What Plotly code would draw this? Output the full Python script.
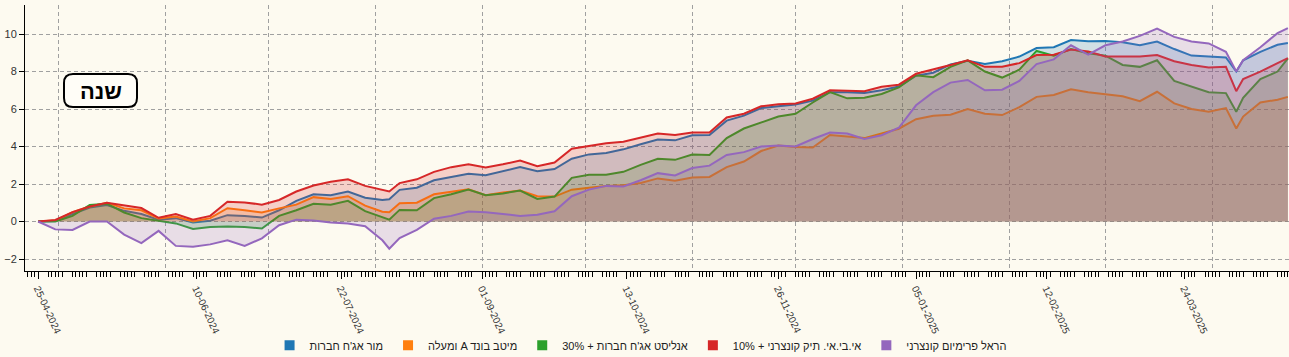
import plotly.graph_objects as go
import pandas as pd

# ---------------- data ----------------
dates = [
    "2024-04-25", "2024-04-30", "2024-05-05", "2024-05-10", "2024-05-15", "2024-05-20",
    "2024-05-25", "2024-05-30", "2024-06-04", "2024-06-09", "2024-06-14", "2024-06-19",
    "2024-06-24", "2024-06-29", "2024-07-04", "2024-07-09", "2024-07-14", "2024-07-19",
    "2024-07-24", "2024-07-29", "2024-08-03", "2024-08-05", "2024-08-08", "2024-08-13",
    "2024-08-18", "2024-08-23", "2024-08-28", "2024-09-02", "2024-09-07", "2024-09-12",
    "2024-09-17", "2024-09-22", "2024-09-27", "2024-10-02", "2024-10-07", "2024-10-12",
    "2024-10-17", "2024-10-22", "2024-10-27", "2024-11-01", "2024-11-06", "2024-11-11",
    "2024-11-16", "2024-11-21", "2024-11-26", "2024-12-01", "2024-12-06", "2024-12-11",
    "2024-12-16", "2024-12-21", "2024-12-26", "2024-12-31", "2025-01-05", "2025-01-10",
    "2025-01-15", "2025-01-20", "2025-01-25", "2025-01-30", "2025-02-04", "2025-02-09",
    "2025-02-14", "2025-02-19", "2025-02-24", "2025-03-01", "2025-03-06", "2025-03-11",
    "2025-03-16", "2025-03-21", "2025-03-26", "2025-03-31", "2025-04-05", "2025-04-08",
    "2025-04-10", "2025-04-15", "2025-04-20", "2025-04-23",
]

# מור אג"ח חברות (blue)
mor = [
    0, 0.03, 0.4, 0.75, 0.88, 0.57, 0.4, 0.1, 0.18, -0.05, 0.04, 0.34,
    0.3, 0.21, 0.6, 1.1, 1.45, 1.4, 1.6, 1.27, 1.15, 1.19, 1.69, 1.8,
    2.2, 2.38, 2.55, 2.47, 2.7, 2.9, 2.68, 2.8, 3.35, 3.58, 3.66, 3.85,
    4.12, 4.37, 4.33, 4.6, 4.62, 5.38, 5.65, 6.05, 6.15, 6.24, 6.45, 6.9,
    6.9, 6.85, 7.0, 7.2, 7.78, 7.94, 8.38, 8.57, 8.4, 8.55, 8.8, 9.25,
    9.3, 9.68, 9.62, 9.63, 9.56, 9.4, 9.6, 9.2, 8.85, 8.8, 8.75, 8.0,
    8.6, 9.05, 9.43, 9.52,
]
# מיטב בונד A ומעלה (orange)
meitav = [
    0, 0.05, 0.5, 0.8, 1.0, 0.7, 0.6, 0.16, 0.27, 0.0, 0.18, 0.71,
    0.6, 0.48, 0.7, 0.9, 1.3, 1.2, 1.35, 0.85, 0.52, 0.5, 0.98, 1.0,
    1.45, 1.58, 1.72, 1.4, 1.55, 1.65, 1.35, 1.33, 1.7, 1.8, 1.9, 1.94,
    2.05, 2.3, 2.18, 2.35, 2.38, 2.9, 3.2, 3.76, 4.05, 3.98, 3.95, 4.62,
    4.54, 4.45, 4.7, 4.95, 5.46, 5.64, 5.7, 6.0, 5.75, 5.68, 6.1, 6.65,
    6.75, 7.05, 6.9, 6.78, 6.68, 6.42, 6.92, 6.3, 6.0, 5.85, 6.05, 4.96,
    5.6, 6.35, 6.5, 6.65,
]
# אנליסט אג"ח חברות + 30% (green)
analyst = [
    0, 0.0, 0.3, 0.88, 0.95, 0.48, 0.18, 0.03, -0.1, -0.4, -0.29, -0.27,
    -0.29, -0.37, 0.3, 0.6, 0.95, 0.9, 1.1, 0.55, 0.2, 0.1, 0.62, 0.6,
    1.25, 1.45, 1.7, 1.4, 1.5, 1.65, 1.2, 1.33, 2.33, 2.49, 2.49, 2.65,
    3.02, 3.35, 3.29, 3.57, 3.55, 4.45, 4.96, 5.28, 5.6, 5.75, 6.35, 6.9,
    6.57, 6.6, 6.8, 7.15, 7.8, 7.7, 8.25, 8.6, 8.0, 7.68, 8.1, 9.1,
    8.85, 9.2, 8.98, 8.85, 8.35, 8.25, 8.6, 7.5, 7.2, 6.9, 6.85, 5.85,
    6.6, 7.6, 8.0, 8.7,
]
# אי.בי.אי. תיק קונצרני + 10% (red)
ibi = [
    0, 0.08, 0.5, 0.8, 1.0, 0.84, 0.72, 0.2, 0.4, 0.1, 0.3, 1.05,
    1.02, 0.9, 1.15, 1.6, 1.92, 2.12, 2.25, 1.9, 1.68, 1.6, 2.05, 2.25,
    2.65, 2.9, 3.05, 2.88, 3.05, 3.25, 2.95, 3.15, 3.88, 4.05, 4.18, 4.25,
    4.48, 4.7, 4.62, 4.75, 4.75, 5.55, 5.75, 6.15, 6.25, 6.3, 6.55, 7.0,
    6.98, 6.95, 7.19, 7.3, 7.88, 8.1, 8.35, 8.6, 8.25, 8.26, 8.45, 8.88,
    8.9, 9.18, 9.07, 8.8, 8.82, 8.8, 8.88, 8.55, 8.35, 8.22, 8.25, 6.95,
    7.6, 8.0, 8.45, 8.72,
]
# הראל פרימיום קונצרני (purple)
harel = [
    0, -0.42, -0.45, 0.0, 0.0, -0.7, -1.15, -0.5, -1.3, -1.35, -1.22, -1.0,
    -1.3, -0.9, -0.2, 0.1, 0.05, -0.05, -0.1, -0.25, -1.0, -1.45, -0.88, -0.45,
    0.15, 0.3, 0.53, 0.5, 0.4, 0.3, 0.36, 0.55, 1.35, 1.7, 1.9, 1.87,
    2.2, 2.58, 2.46, 2.85, 2.98, 3.55, 3.7, 4.0, 4.05, 4.0, 4.4, 4.75,
    4.69, 4.4, 4.6, 5.0, 6.2, 6.9, 7.41, 7.55, 7.0, 7.03, 7.5, 8.4,
    8.65, 9.4, 8.9, 9.4, 9.6, 9.9, 10.29, 9.85, 9.6, 9.5, 9.05, 8.0,
    8.6, 9.3, 10.05, 10.32,
]

# legend labels, written in the order they appear on screen
series_names = [
    "מור אג'ח חברות",
    "ומעלה A מיטב בונד",
    "30% + אנליסט אג'ח חברות",
    "10% + אי.בי.אי. תיק קונצרני",
    "הראל פרימיום קונצרני",
]
series_values = [mor, meitav, analyst, ibi, harel]
colors = ["#1f77b4", "#ff7f0e", "#2ca02c", "#d62728", "#9467bd"]

label_dates = ["2024-04-25", "2024-06-10", "2024-07-22", "2024-09-01", "2024-10-13",
               "2024-11-26", "2025-01-05", "2025-02-12", "2025-03-24"]
label_text = [pd.Timestamp(d).strftime("%d-%m-%Y") for d in label_dates]
y_ticks = [-2, 0, 2, 4, 6, 8, 10]
box_text = "שנה"

# ---------------- layout constants ----------------
W, H = 1289, 357
ML, MR, MT, MB = 25, 0, 5, 86
PW, PH = W - ML - MR, H - MT - MB
BG = "#fdfaf0"
GRID = "#a0a0a0"

x_start = pd.Timestamp("2024-04-25") - pd.Timedelta(days=3.8)
x_end = x_start + pd.Timedelta(days=PW / 3.443)
y_range = [-2.64, 11.55]

trading_days = pd.bdate_range(x_start.normalize() + pd.Timedelta(days=1), x_end, freq="C",
                              weekmask="Sun Mon Tue Wed Thu")


def rgba(hexcol, a):
    h = hexcol.lstrip("#")
    return "rgba(%d,%d,%d,%s)" % (int(h[0:2], 16), int(h[2:4], 16), int(h[4:6], 16), a)


fig = go.Figure()
# helper trace so the overlaid month-grid axis is drawn
fig.add_trace(go.Scatter(x=[x_start, x_end], y=[None, None], xaxis="x2", yaxis="y",
                         mode="lines", showlegend=False, hoverinfo="skip"))
for name, vals, col in zip(series_names, series_values, colors):
    fig.add_trace(go.Scatter(
        x=dates, y=vals, mode="lines", name=name, showlegend=False,
        line=dict(color=col, width=2), fill="tozeroy", fillcolor=rgba(col, 0.2),
        hoverinfo="skip",
    ))
# legend swatches
for name, col in zip(series_names, colors):
    fig.add_trace(go.Scatter(
        x=[None], y=[None], mode="markers", name=name,
        marker=dict(symbol="square", size=10, color=col), showlegend=True,
    ))


def px2paper(px, py):
    return (px - ML) / PW, (H - MB - py) / PH


bx0, by0 = px2paper(64, 107)
bx1, by1 = px2paper(137, 74)
rx, ry = 9 / PW, 9 / PH
path = (f"M {bx0+rx},{by0} L {bx1-rx},{by0} Q {bx1},{by0} {bx1},{by0+ry} "
        f"L {bx1},{by1-ry} Q {bx1},{by1} {bx1-rx},{by1} L {bx0+rx},{by1} "
        f"Q {bx0},{by1} {bx0},{by1-ry} L {bx0},{by0+ry} Q {bx0},{by0} {bx0+rx},{by0} Z")
fig.add_shape(type="path", path=path, xref="paper", yref="paper",
              line=dict(color="black", width=2), fillcolor="#fffdf7", layer="above")
cx, cy = px2paper(100.5, 91)
fig.add_annotation(x=cx, y=cy, xref="paper", yref="paper", text="<b>%s</b>" % box_text,
                   xanchor="center", yanchor="middle", showarrow=False,
                   font=dict(size=22, color="black", family="Liberation Sans"))

fig.update_layout(
    template="none",
    width=W, height=H,
    margin=dict(l=ML, r=MR, t=MT, b=MB, autoexpand=False),
    paper_bgcolor=BG, plot_bgcolor=BG,
    font=dict(family="Liberation Sans, Arial, sans-serif", size=11, color="#333"),
    showlegend=True,
    legend=dict(orientation="h", x=0.487, xanchor="center", y=-0.225, yanchor="top",
                font=dict(size=11, color="#222"), bgcolor="rgba(0,0,0,0)",
                itemwidth=30, tracegroupgap=0),
    hovermode=False,
    xaxis=dict(
        type="date", range=[x_start, x_end], automargin=False,
        tickmode="array", tickvals=label_dates, ticktext=label_text,
        tickangle=65, tickfont=dict(size=10, color="#333"),
        ticks="outside", ticklen=7, tickcolor="black", tickwidth=1,
        minor=dict(tickmode="array", tickvals=list(trading_days), ticks="outside",
                   ticklen=5, tickcolor="black", tickwidth=1, showgrid=False),
        showgrid=False, showline=True, linecolor="black", linewidth=1,
        zeroline=False, fixedrange=True,
    ),
    xaxis2=dict(
        type="date", range=[x_start, x_end], overlaying="x", anchor="y", side="bottom",
        automargin=False,
        tick0="2024-05-01", dtick="M1", showticklabels=False, ticks="",
        showgrid=True, gridcolor=GRID, griddash="4px,3px", gridwidth=1,
        showline=False, zeroline=False,
    ),
    yaxis=dict(
        range=y_range, tickmode="array", tickvals=y_ticks, automargin=False,
        ticks="outside", ticklen=5, tickcolor="black",
        showline=True, linecolor="black", linewidth=1,
        showgrid=True, gridcolor=GRID, griddash="4px,3px", gridwidth=1,
        zeroline=False, tickfont=dict(size=11, color="#333"),
    ),
)

fig.write_html("out.html", config={"displayModeBar": False, "staticPlot": True},
               post_script="document.body.style.margin='0px';document.body.style.overflow='hidden';")
